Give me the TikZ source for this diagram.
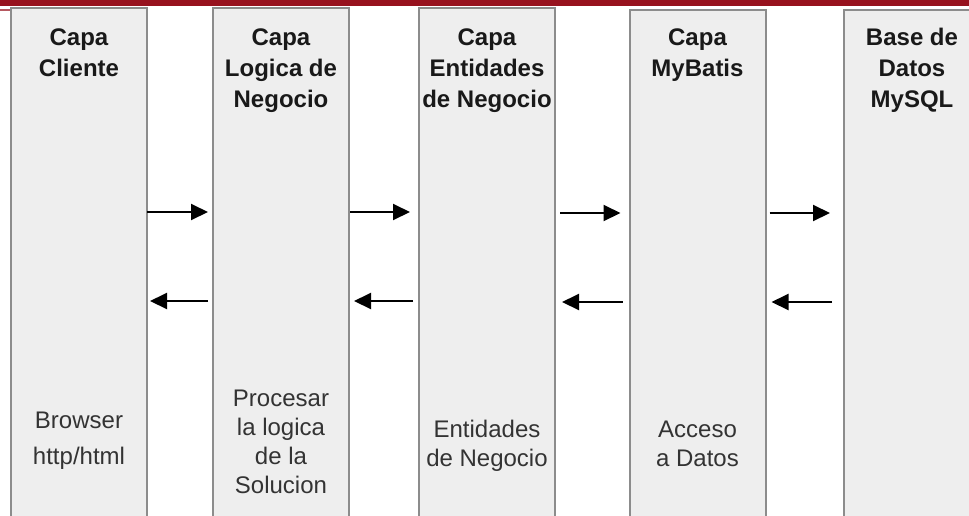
\documentclass[tikz,border=0pt]{standalone}
\usepackage{fontspec}
\setmainfont{Liberation Sans}
\usetikzlibrary{arrows.meta}
\definecolor{wred}{HTML}{97121E}
\definecolor{wfill}{HTML}{EEEEEE}
\definecolor{wline}{HTML}{8C8C8C}
\definecolor{wtext}{HTML}{333333}

\tikzset{
  layer/.style={draw=wline, fill=wfill, line width=1pt, minimum width=68pt,
    minimum height=300pt, anchor=north west, inner sep=0pt},
  head/.style={anchor=north, align=center, inner sep=0pt,
    font=\fontsize{12}{15.5}\selectfont\bfseries, text=black!90},
  desc/.style={anchor=north, align=center, inner sep=0pt,
    font=\fontsize{12}{14.5}\selectfont, text=wtext},
  flow/.style={-{Triangle[length=8.5pt, width=8pt]}, line width=1pt},
}

\begin{document}
\begin{tikzpicture}[x=0.5pt, y=-0.5pt]
  \clip (0,0) rectangle (969,515);
  \fill[white] (0,0) rectangle (969,515);
  % top band
  \fill[wred] (0,0) rectangle (969,6);
  \draw[wred!70, line width=0.75pt] (0,10) -- (10,10);

  % layers
  \node[layer] (l1) at (10,7) {};
  \node[layer] (l2) at (212,7) {};
  \node[layer] (l3) at (418,7) {};
  \node[layer] (l4) at (628.5,9) {};
  \node[layer] (l5) at (843,9) {};

  \node[head] (h1) at (l1.north |- 0,28) {Capa\\Cliente};
  \node[head] (h2) at (l2.north |- 0,28) {Capa\\Logica de\\Negocio};
  \node[head] (h3) at (l3.north |- 0,28) {Capa\\Entidades\\de Negocio};
  \node[head] (h4) at (l4.north |- 0,28) {Capa\\MyBatis};
  \node[head] (h5) at (l5.north |- 0,28) {Base de\\Datos\\MySQL};

  \node[desc, font=\fontsize{12}{18}\selectfont] (d1) at (l1.north |- 0,412) {Browser\\http/html};
  \node[desc] (d2) at (l2.north |- 0,390) {Procesar\\la logica\\de la\\Solucion};
  \node[desc] (d3) at (l3.north |- 0,420) {Entidades\\de Negocio};
  \node[desc] (d4) at (l4.north |- 0,420.5) {Acceso\\a Datos};

  % requests and answers
  \draw[flow, shorten <=-0.5pt, shorten >=2pt] (l1.east |- 0,212) -- (l2.west |- 0,212);
  \draw[flow, shorten <=2pt, shorten >=1pt] (l2.west |- 0,301) -- (l1.east |- 0,301);
  \draw[flow, shorten <=0pt, shorten >=4pt] (l2.east |- 0,212) -- (l3.west |- 0,212);
  \draw[flow, shorten <=2.5pt, shorten >=2pt] (l3.west |- 0,301) -- (l2.east |- 0,301);
  \draw[flow, shorten <=2pt, shorten >=4pt] (l3.east |- 0,213) -- (l4.west |- 0,213);
  \draw[flow, shorten <=3pt, shorten >=3pt] (l4.west |- 0,302) -- (l3.east |- 0,302);
  \draw[flow, shorten <=1.5pt, shorten >=6.5pt] (l4.east |- 0,213) -- (l5.west |- 0,213);
  \draw[flow, shorten <=5.5pt, shorten >=2.5pt] (l5.west |- 0,302) -- (l4.east |- 0,302);
\end{tikzpicture}
\end{document}
